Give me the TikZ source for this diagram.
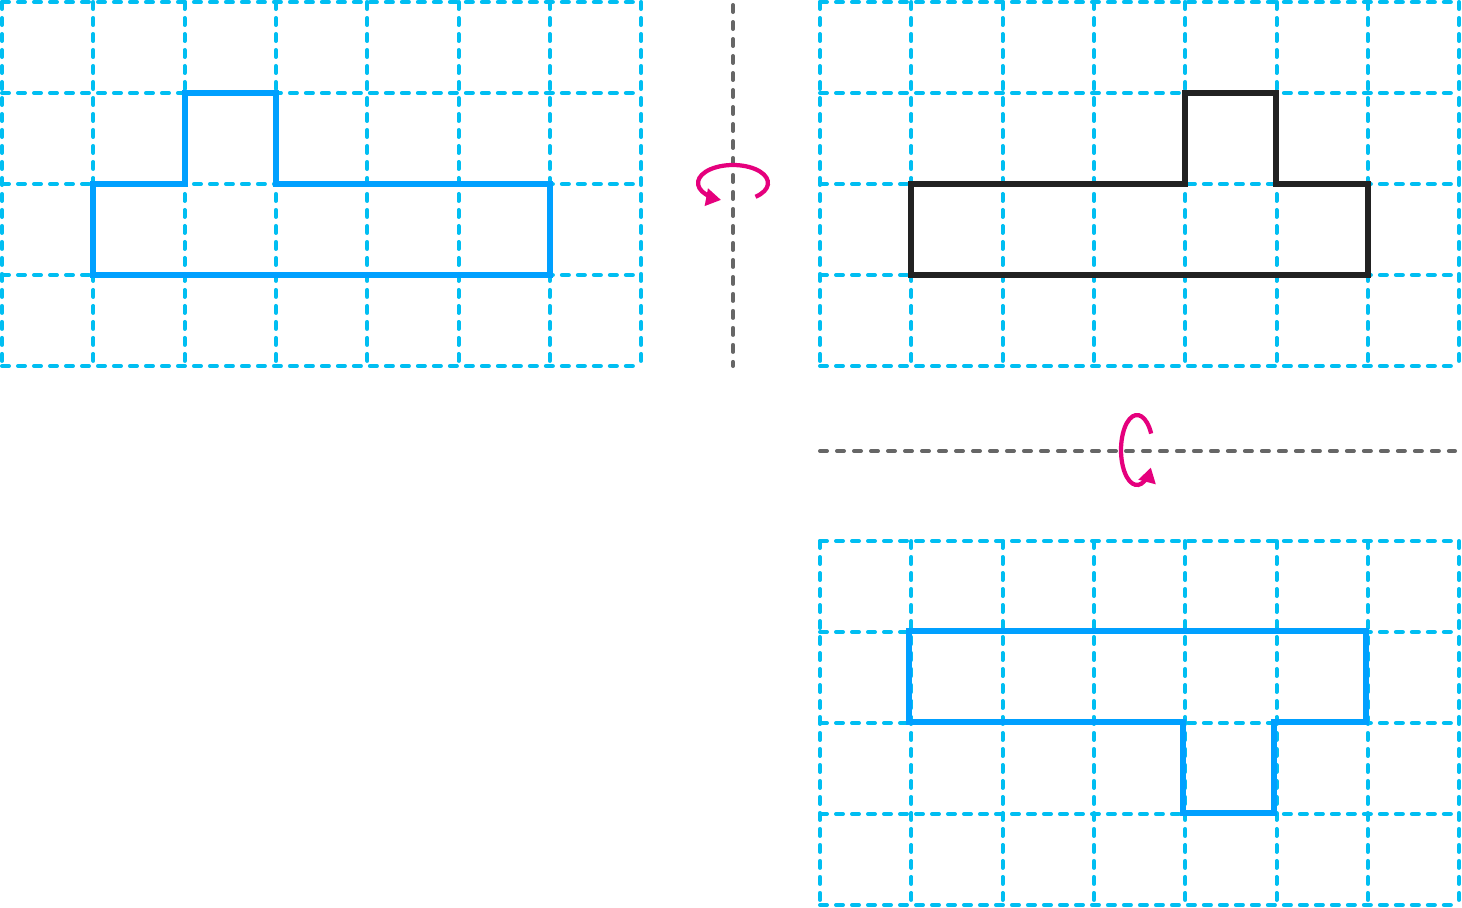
\documentclass[tikz,border=0pt]{standalone}
\usetikzlibrary{arrows.meta}
\definecolor{gridcyan}{HTML}{00BEF2}
\definecolor{shapeblue}{HTML}{00A0FF}
\definecolor{shapeblack}{HTML}{222222}
\definecolor{axisgray}{HTML}{666666}
\definecolor{spinpink}{HTML}{E5007D}

\begin{document}
\begin{tikzpicture}[x=0.02cm,y=-0.02cm,
  gridline/.style={gridcyan,line width=0.08cm,line cap=round,dash pattern=on 0.14cm off 0.18cm},
  axisline/.style={axisgray,line width=0.08cm,line cap=round,dash pattern=on 0.14cm off 0.2cm},
  figure/.style={line width=0.12cm,line join=miter},
  spin/.style={spinpink,line width=0.085cm,-{Triangle[length=0.3cm,width=0.34cm]}}]
\useasboundingbox (0,0) rectangle (1462,907);

\foreach \gx/\gy in {2/2,820/2,820/541}{
  \foreach \i in {0,...,7} \draw[gridline] (\gx+\i*91.3,\gy) -- (\gx+\i*91.3,\gy+364);
  \foreach \j in {0,...,4} \draw[gridline] (\gx,\gy+\j*91) -- (\gx+639,\gy+\j*91);
}

\begin{scope}[shift={(2,2)},x=1.826cm,y=-1.82cm]
\draw[figure,shapeblue] (1,3) -- (1,2) -- (2,2) -- (2,1) -- (3,1) -- (3,2) -- (6,2) -- (6,3) -- cycle;
\end{scope}
\begin{scope}[shift={(820,2)},x=1.826cm,y=-1.82cm]
\draw[figure,shapeblack] (1,3) -- (1,2) -- (4,2) -- (4,1) -- (5,1) -- (5,2) -- (6,2) -- (6,3) -- cycle;
\end{scope}
\begin{scope}[shift={(818,540)},x=1.826cm,y=-1.82cm]
\draw[figure,shapeblue] (1,1) -- (6,1) -- (6,2) -- (5,2) -- (5,3) -- (4,3) -- (4,2) -- (1,2) -- cycle;
\end{scope}

\draw[axisline] (733,5) -- (733,366);
\draw[axisline] (820,451) -- (1455,451);

\draw[spin] (733,183) ++(50:35 and 18) arc[start angle=50,end angle=-250,x radius=35,y radius=18];
\draw[spin] (1137,450) ++(-28:16 and 35) arc[start angle=-28,end angle=-330,x radius=16,y radius=35];
\end{tikzpicture}
\end{document}
